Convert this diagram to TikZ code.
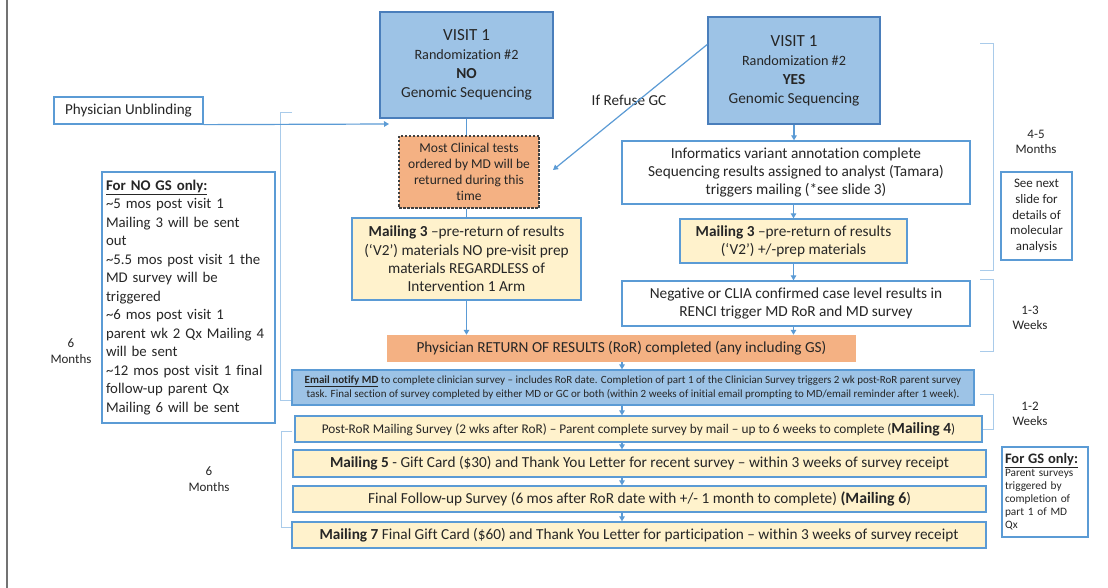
\documentclass[tikz,border=0pt]{standalone}
\usepackage{fontspec}
\setmainfont{Carlito}[Ligatures=NoCommon]
\usetikzlibrary{arrows.meta,calc}
\definecolor{bluefill}{HTML}{9DC3E6}
\definecolor{blueline}{HTML}{5B9BD5}
\definecolor{darkblue}{HTML}{4A7EBB}
\definecolor{yellowfill}{HTML}{FFF2CC}
\definecolor{orangefill}{HTML}{F4B183}
\definecolor{bracketcol}{HTML}{A9CBEA}
\definecolor{txt}{HTML}{262626}
\newcommand\fsz[2]{\fontsize{#1}{#2}\selectfont}
\begin{document}
\begin{tikzpicture}[x=1pt,y=-1pt,
  box/.style={draw=blueline, line width=1.3pt, inner sep=0pt, align=center, text=txt},
  visitbox/.style={box, draw=darkblue, fill=bluefill, line width=1.5pt},
  yellowbox/.style={box, fill=yellowfill},
  whitebox/.style={box, fill=white},
  emailbox/.style={box, fill=bluefill, draw=blueline},
  rorbox/.style={inner sep=0pt, align=center, text=txt, fill=orangefill},
  dashbox/.style={inner sep=0pt, align=center, text=txt, fill=orangefill, draw=black!75, line width=1.2pt, dash pattern=on 2.5pt off 1.5pt},
  label/.style={inner sep=0pt, align=center, text=txt},
  arr/.style={draw=blueline, line width=1.2pt, -{Triangle[length=5pt,width=5.5pt]}},
  plain/.style={draw=blueline, line width=1.2pt},
  brk/.style={draw=bracketcol, line width=0.9pt}
]
\useasboundingbox (0,0) rectangle (1108,588);
\fill[white] (0,0) rectangle (1108,588);
\draw[draw=black!55, line width=2pt] (7,0) -- (7,588);

% brackets
\draw[brk] (292,112) -- (280,112) -- (280,400) -- (292,400);
\draw[brk] (292,431) -- (281,431) -- (281,527) -- (292,527);
\draw[brk] (980,43) -- (993,43) -- (993,270) -- (980,270);
\draw[brk] (980,279) -- (993,279) -- (993,351) -- (980,351);
\draw[brk] (980,394) -- (993,394) -- (993,429) -- (980,429);

% top boxes
\node[visitbox, minimum width=173pt, minimum height=106pt, font=\fsz{15.3}{19}] (no) at (466.5,65)
  {{\fsz{17}{19}VISIT 1}\\{\fsz{14.2}{19}Randomization \#2}\\\textbf{NO}\\Genomic Sequencing};
\node[visitbox, minimum width=172pt, minimum height=107pt, font=\fsz{15.3}{19}] (yes) at (794,70.5)
  {{\fsz{17}{19}VISIT 1}\\{\fsz{14.2}{19}Randomization \#2}\\\textbf{YES}\\Genomic Sequencing};
\node[whitebox, minimum width=149pt, minimum height=27pt, font=\fsz{15.1}{17}] (unb) at (128.5,110.5)
  {Physician Unblinding};
\coordinate (unbend) at (389,124);
\draw[arr] (unb.south east) -- (unbend);

\node[dashbox, minimum width=140pt, minimum height=72pt, font=\fsz{13.5}{16}] (most) at (469,172)
  {Most Clinical tests\\ordered by MD will be\\returned during this\\time};
\node[yellowbox, minimum width=229pt, minimum height=82pt, font=\fsz{15.3}{18.3}] (m3l) at (466.5,259)
  {\textbf{Mailing 3} –pre-return of results\\(‘V2’) materials NO pre-visit prep\\materials REGARDLESS of\\Intervention 1 Arm};

\node[whitebox, minimum width=348pt, minimum height=63pt, font=\fsz{15.3}{18}] (inf) at (796,172.5)
  {Informatics variant annotation complete\\Sequencing results assigned to analyst (Tamara)\\triggers mailing (*see slide 3)};
\node[yellowbox, minimum width=227pt, minimum height=44pt, font=\fsz{15.3}{18}] (m3r) at (793.5,241)
  {\textbf{Mailing 3} –pre-return of results\\(‘V2’) +/-prep materials};
\node[whitebox, minimum width=348pt, minimum height=45pt, font=\fsz{15.3}{18}] (neg) at (796,303.5)
  {Negative or CLIA confirmed case level results in\\RENCI trigger MD RoR and MD survey};

\node[rorbox, minimum width=469pt, minimum height=27pt, font=\fsz{15.3}{17}] (ror) at (621.5,348.5)
  {Physician RETURN OF RESULTS (RoR) completed (any including GS)};
\node[emailbox, minimum width=682pt, minimum height=35pt, font=\fsz{11}{14}] (email) at (633,387.5)
  {\underline{\textbf{Email notify MD}} to complete clinician survey – includes RoR date. Completion of part 1 of the Clinician Survey triggers 2 wk post-RoR parent survey\\
   task. Final section of survey completed by either MD or GC or both (within 2 weeks of initial email prompting to MD/email reminder after 1 week).};
\node[yellowbox, minimum width=687pt, minimum height=26pt, font=\fsz{13.3}{16}] (post) at (638.5,429)
  {Post-RoR Mailing Survey (2 wks after RoR) – Parent complete survey by mail – up to 6 weeks to complete (\textbf{\fsz{15.5}{16}Mailing 4})};
\node[yellowbox, minimum width=693pt, minimum height=27pt, font=\fsz{15.3}{17}] (m5) at (639.5,463.5)
  {\textbf{Mailing 5} - Gift Card (\$30) and Thank You Letter for recent survey – within 3 weeks of survey receipt};
\node[yellowbox, minimum width=693pt, minimum height=26pt, font=\fsz{15.3}{17}] (fin) at (639.5,499)
  {Final Follow-up Survey (6 mos after RoR date with +/- 1 month to complete) \textbf{\fsz{15.8}{17}(Mailing 6})};
\node[yellowbox, minimum width=694pt, minimum height=26pt, font=\fsz{15.3}{17}] (m7) at (639,535)
  {\textbf{Mailing 7} Final Gift Card (\$60) and Thank You Letter for participation – within 3 weeks of survey receipt};

% side notes
\node[whitebox, minimum width=173pt, minimum height=251pt, align=left, text width=165pt, font=\fsz{14.8}{18.5}] (nogs) at (188.5,297.5)
  {\underline{\textbf{For NO GS only:}}\\
   \textasciitilde5 mos post visit 1\\
   Mailing 3 will be sent\\
   out\\
   \textasciitilde5.5 mos post visit 1 the\\
   MD survey will be\\
   triggered\\
   \textasciitilde6 mos post visit 1\\
   parent wk 2 Qx Mailing 4\\
   will be sent\\
   \textasciitilde12 mos post visit 1 final\\
   follow-up parent Qx\\
   Mailing 6 will be sent};
\node[whitebox, minimum width=71pt, minimum height=88pt, font=\fsz{13}{15.7}] (seenext) at (1036.5,216)
  {See next\\slide for\\details of\\molecular\\analysis};
\node[whitebox, minimum width=86pt, minimum height=90pt, align=left, text width=80pt, font=\fsz{11.3}{13}] (gsonly) at (1045,492)
  {{\fsz{14.5}{15}\underline{\textbf{For GS only:}}}\\
   Parent surveys\\triggered by\\completion of\\part 1 of MD\\Qx};

% labels
\node[label, font=\fsz{13}{16}] (l6a) at (71,351) {6\\Months};
\node[label, font=\fsz{13}{16}] (l6b) at (209,479) {6\\Months};
\node[label, font=\fsz{13}{15.5}] (l45) at (1036,142) {4-5\\Months};
\node[label, font=\fsz{13}{15.5}] (l13) at (1030,318) {1-3\\Weeks};
\node[label, font=\fsz{13}{15.5}] (l12) at (1030,414) {1-2\\Weeks};
\node[label, font=\fsz{15.2}{17}] (refuse) at (629,100) {If Refuse GC};

% connectors
\draw[plain] (no.south) -- (no.south |- most.north);
\draw[plain] (most.south -| no.south) -- (no.south |- m3l.north);
\draw[arr] (m3l.south) -- (m3l.south |- ror.north);
\coordinate (refuseStart) at ($(yes.north west)!0.26!(yes.south west)$);
\coordinate (refuseEnd) at (553,170);
\draw[arr] (refuseStart) -- (refuseEnd);
\draw[arr] (yes.south) -- (yes.south |- inf.north);
\draw[arr] (inf.south -| m3r.north) -- (m3r.north);
\draw[arr] (m3r.south) -- (m3r.south |- neg.north);
\draw[arr] (neg.south -| m3r.south) -- (m3r.south |- ror.north);
\coordinate (cx) at (622,0);
\draw[arr] (ror.south -| cx) -- (email.north -| cx);
\draw[arr] (email.south -| cx) -- (post.north -| cx);
\draw[arr] (post.south -| cx) -- (m5.north -| cx);
\draw[arr] (m5.south -| cx) -- (fin.north -| cx);
\draw[arr] (fin.south -| cx) -- (m7.north -| cx);
\end{tikzpicture}
\end{document}
